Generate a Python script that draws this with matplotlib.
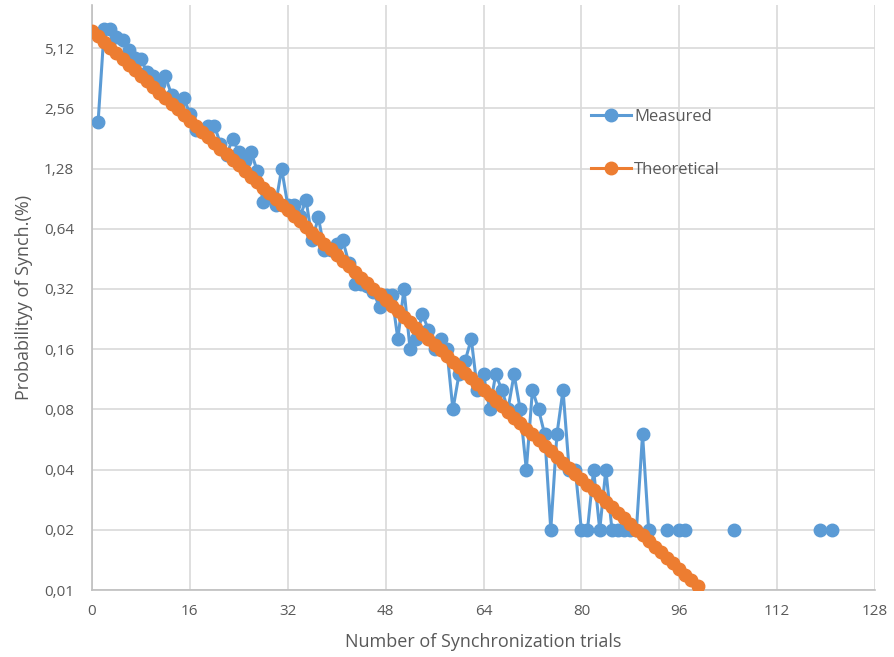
import numpy as np
import matplotlib
matplotlib.use("Agg")
import matplotlib.pyplot as plt

# --- data ---
measured_trials = list(range(1, 92)) + [94, 96, 97, 105, 119, 121]
measured_prob = [
    2.2, 6.4, 6.4, 5.8, 5.6, 5.0, 4.6, 4.5, 3.9, 3.7,
    3.4, 3.7, 3.0, 2.6, 2.9, 2.4, 2.0, 2.0, 2.1, 2.1,
    1.7, 1.5, 1.8, 1.55, 1.4, 1.55, 1.25, 0.87, 0.94, 0.84,
    1.28, 0.84, 0.84, 0.74, 0.89, 0.56, 0.73, 0.50, 0.50, 0.54,
    0.56, 0.43, 0.34, 0.34, 0.33, 0.31, 0.26, 0.30, 0.30, 0.18,
    0.32, 0.16, 0.18, 0.24, 0.20, 0.16, 0.18, 0.16, 0.08, 0.12,
    0.14, 0.18, 0.10, 0.12, 0.08, 0.12, 0.10, 0.08, 0.12, 0.08,
    0.04, 0.10, 0.08, 0.06, 0.02, 0.06, 0.10, 0.04, 0.04, 0.02,
    0.02, 0.04, 0.02, 0.04, 0.02, 0.02, 0.02, 0.02, 0.02, 0.06,
    0.02,
    0.02, 0.02, 0.02, 0.02, 0.02, 0.02,
]

theoretical_trials = list(range(0, 100))
theoretical_prob = [
    6.25, 5.859, 5.493, 5.150, 4.828, 4.526, 4.243, 3.978, 3.729, 3.496,
    3.278, 3.073, 2.881, 2.701, 2.532, 2.374, 2.225, 2.086, 1.956, 1.834,
    1.719, 1.612, 1.511, 1.416, 1.328, 1.245, 1.167, 1.094, 1.026, 0.9618,
    0.9017, 0.8453, 0.7925, 0.7430, 0.6965, 0.6530, 0.6122, 0.5739, 0.5380, 0.5044,
    0.4729, 0.4433, 0.4156, 0.3896, 0.3653, 0.3425, 0.3211, 0.3010, 0.2822, 0.2645,
    0.2480, 0.2325, 0.2180, 0.2044, 0.1916, 0.1796, 0.1684, 0.1579, 0.1480, 0.1387,
    0.1301, 0.1219, 0.1143, 0.1072, 0.1005, 0.0942, 0.0883, 0.0828, 0.0776, 0.0728,
    0.0682, 0.0640, 0.0600, 0.0562, 0.0527, 0.0494, 0.0463, 0.0434, 0.0407, 0.0382,
    0.0358, 0.0335, 0.0315, 0.0295, 0.0276, 0.0259, 0.0243, 0.0228, 0.0213, 0.0200,
    0.0188, 0.0176, 0.0165, 0.0155, 0.0145, 0.0136, 0.0127, 0.0119, 0.0112, 0.0105,
]

y_ticks = [0.01, 0.02, 0.04, 0.08, 0.16, 0.32, 0.64, 1.28, 2.56, 5.12]
y_tick_labels = ["0,01", "0,02", "0,04", "0,08", "0,16", "0,32", "0,64", "1,28", "2,56", "5,12"]
x_ticks = [0, 16, 32, 48, 64, 80, 96, 112, 128]

BLUE = "#5B9BD5"
ORANGE = "#ED7D31"
TEXT = "#595959"
GRID = "#D9D9D9"

plt.rcParams["font.family"] = ["Open Sans", "DejaVu Sans"]


def with_gaps(xs, ys):
    # insert NaN where trials are missing so the line breaks like Excel does
    gx, gy = [], []
    for i, (x, y) in enumerate(zip(xs, ys)):
        if i > 0 and x - xs[i - 1] > 1:
            gx.append(np.nan)
            gy.append(np.nan)
        gx.append(x)
        gy.append(y)
    return gx, gy


fig = plt.figure(figsize=(8.94, 6.57), dpi=100)
ax = fig.add_axes([92 / 894, 1 - 590 / 657, 783 / 894, 585 / 657])

mx, my = with_gaps(measured_trials, measured_prob)
ax.plot(mx, my, color=BLUE, lw=2.2, marker="o", ms=9, label="Measured", zorder=3)
ax.plot(theoretical_trials, theoretical_prob, color=ORANGE, lw=2.2, marker="o", ms=9,
        label="Theoretical", zorder=4)

ax.set_yscale("log", base=2)
ax.set_ylim(0.01, 0.01 * 2 ** (585 / 60.2))
ax.set_xlim(0, 128)
ax.set_yticks(y_ticks)
ax.set_yticklabels(y_tick_labels)
ax.minorticks_off()
ax.set_xticks(x_ticks)

ax.grid(True, color=GRID, lw=1.2)
ax.set_axisbelow(True)
for s in ["top", "right"]:
    ax.spines[s].set_visible(False)
for s in ["left", "bottom"]:
    ax.spines[s].set_color("#BFBFBF")
    ax.spines[s].set_linewidth(1.2)

ax.tick_params(axis="both", length=0, labelsize=11, colors=TEXT)
ax.tick_params(axis="y", pad=13)
ax.tick_params(axis="x", pad=10)

ax.set_xlabel("Number of Synchronization trials", fontsize=13, color=TEXT, labelpad=10)
ax.set_ylabel("Probabilityy of Synch.(%)", fontsize=13, color=TEXT, labelpad=8)

ax.legend(loc="upper left", bbox_to_anchor=(0.637, 0.823), frameon=False,
          fontsize=12, labelcolor=TEXT, handlelength=2.4, handletextpad=0.2,
          labelspacing=2.25, borderpad=0, borderaxespad=0)

fig.savefig("out.png", dpi=100)
